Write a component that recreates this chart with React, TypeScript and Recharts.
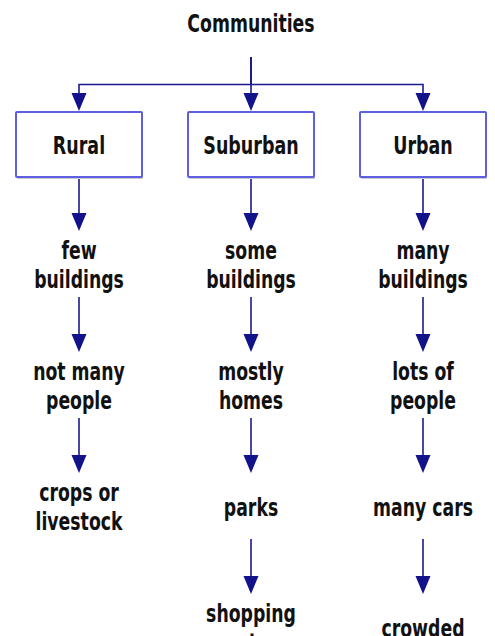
import React from 'react';
import { ScatterChart, Scatter, XAxis, YAxis, ReferenceLine } from 'recharts';

// ---- data ----
const title = 'Communities';
const categories = ['Rural', 'Suburban', 'Urban'];
const ruralTraits = ['few\nbuildings', 'not many\npeople', 'crops or\nlivestock'];
const suburbanTraits = ['some\nbuildings', 'mostly\nhomes', 'parks', 'shopping\ncenters'];
const urbanTraits = ['many\nbuildings', 'lots of\npeople', 'many cars', 'crowded'];
const traitsByCategory = [ruralTraits, suburbanTraits, urbanTraits];

// x = column index, y = level (0 title, 1 category box, 2.. traits)
type NodeT = { id: string; x: number; y: number; label: string; kind: 'title' | 'box' | 'item' };
type EdgeT = { from: NodeT; to: NodeT; kind: 'branch' | 'chain' };

const titleNode: NodeT = { id: 'title', x: 1, y: 0, label: title, kind: 'title' };
const nodes: NodeT[] = [titleNode];
const edges: EdgeT[] = [];
categories.forEach((c, i) => {
  const box: NodeT = { id: c, x: i, y: 1, label: c, kind: 'box' };
  nodes.push(box);
  edges.push({ from: titleNode, to: box, kind: 'branch' });
  let prev = box;
  traitsByCategory[i].forEach((t, j) => {
    const n: NodeT = { id: `${c}-${j}`, x: i, y: 2 + j, label: t, kind: 'item' };
    nodes.push(n);
    edges.push({ from: prev, to: n, kind: 'chain' });
    prev = n;
  });
});

// ---- layout ----
const W = 495;
const H = 636;
const X_DOMAIN: [number, number] = [-79 / 172, (W - 79) / 172];
const Y_DOMAIN: [number, number] = [-24 / 121, (H - 24) / 121];
const FONT = "'DejaVu Sans', sans-serif";
const LINE = '#1b1b8e';
const HEAD = '#12128a';

const NodeShape = (props: any) => {
  const { cx, cy, payload } = props;
  if (cx == null || cy == null) return null;
  const lines: string[] = String(payload.label).split('\n');
  const lh = 29;
  const isBox = payload.kind === 'box';
  const fs = isBox ? 25 : 24;
  const squeeze = isBox ? 0.7 : 0.72;
  const base = cy + (isBox ? 9 : 8) - ((lines.length - 1) * lh) / 2;
  return (
    <g>
      {isBox && (
        <g>
          <rect x={cx - 62} y={cy - 31} width={126} height={65} fill="#c9c9cf" rx={1} />
          <rect x={cx - 63} y={cy - 33} width={126} height={65} fill="#ffffff" stroke="#5e5ee0" strokeWidth={2} rx={1} />
        </g>
      )}
      <g transform={`translate(${cx},0) scale(${squeeze},1)`}>
        <text textAnchor="middle" fontFamily={FONT} fontWeight="bold" fontSize={fs} fill="#111">
          {lines.map((l, k) => (
            <tspan key={k} x={0} y={base + k * lh}>
              {l}
            </tspan>
          ))}
        </text>
      </g>
    </g>
  );
};

const Arrow = (props: any) => {
  const { x1, y1, x2, y2, kind } = props;
  if (x1 == null || y1 == null) return null;
  const headH = 18;
  const headW = 7.5;
  const tip = kind === 'branch' ? y2 - 34 : y2 - 35;
  const start = kind === 'branch' ? y1 + 33 : y1 + (props.fromBox ? 33 : 31);
  const d =
    kind === 'branch'
      ? `M${x1},${start} V${(y1 + y2) / 2} H${x2} V${tip - headH + 2}`
      : `M${x2},${start} V${tip - headH + 2}`;
  return (
    <g>
      <path d={d} fill="none" stroke={LINE} strokeWidth={1.6} />
      <polygon points={`${x2},${tip} ${x2 - headW},${tip - headH} ${x2 + headW},${tip - headH}`} fill={HEAD} />
    </g>
  );
};

export default function App() {
  return (
    <div style={{ position: 'absolute', left: 0, top: 0, width: W, height: H, background: '#fff' }}>
      <ScatterChart width={W} height={H} margin={{ top: 0, right: 0, bottom: 0, left: 0 }}>
        <XAxis type="number" dataKey="x" domain={X_DOMAIN} hide allowDataOverflow />
        <YAxis type="number" dataKey="y" domain={Y_DOMAIN} reversed hide allowDataOverflow />
        {edges.map((e, i) => (
          <ReferenceLine
            key={i}
            segment={[
              { x: e.from.x, y: e.from.y },
              { x: e.to.x, y: e.to.y },
            ]}
            ifOverflow="visible"
            shape={(p: any) => <Arrow {...p} kind={e.kind} fromBox={e.from.kind === 'box'} />}
          />
        ))}
        <Scatter data={nodes} shape={NodeShape} isAnimationActive={false} />
      </ScatterChart>
    </div>
  );
}
